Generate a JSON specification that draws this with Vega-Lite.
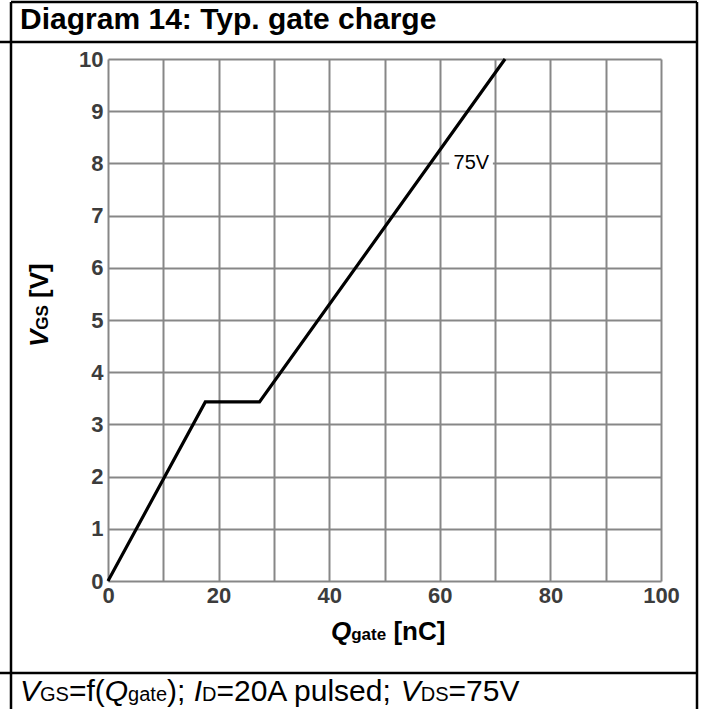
{
  "$schema": "https://vega.github.io/schema/vega-lite/v6.json",
  "width": 553,
  "height": 522,
  "autosize": {"type": "none"},
  "padding": {"left": 108, "top": 59, "right": 44, "bottom": 128},
  "background": "white",
  "config": {
    "view": {"stroke": null},
    "font": "Liberation Sans",
    "text": {"font": "Liberation Sans", "color": "black", "align": "left", "baseline": "alphabetic"},
    "axis": {
      "gridColor": "#878787",
      "gridWidth": 2,
      "gridOpacity": 1,
      "domain": false,
      "ticks": false,
      "labelFont": "Liberation Sans",
      "labelFontWeight": "bold",
      "labelFontSize": 22,
      "labelColor": "#3c3c3c"
    }
  },
  "datasets": {
    "curve": [
      {"q": 0, "v": 0},
      {"q": 17.6, "v": 3.43},
      {"q": 27.4, "v": 3.43},
      {"q": 71.8, "v": 10}
    ],
    "labels": [
      {"q": 65.7, "v": 8, "text": "75V"}
    ],
    "one": [{}]
  },
  "layer": [
    {
      "data": {"name": "curve"},
      "mark": {"type": "line", "color": "black", "strokeWidth": 3.2, "strokeJoin": "miter", "clip": false},
      "encoding": {
        "x": {
          "field": "q", "type": "quantitative",
          "scale": {"domain": [0, 100], "nice": false, "zero": false},
          "axis": {
            "title": null,
            "values": [0, 10, 20, 30, 40, 50, 60, 70, 80, 90, 100],
            "labelExpr": "datum.value % 20 === 0 ? datum.label : ''",
            "labelPadding": 4,
            "labelFlush": false,
            "labelOverlap": false
          }
        },
        "y": {
          "field": "v", "type": "quantitative",
          "scale": {"domain": [0, 10], "nice": false, "zero": false},
          "axis": {
            "title": null,
            "values": [0, 0.5, 1, 1.5, 2, 2.5, 3, 3.5, 4, 4.5, 5, 5.5, 6, 6.5, 7, 7.5, 8, 8.5, 9, 9.5, 10],
            "labelExpr": "datum.value % 1 === 0 ? datum.label : ''",
            "labelPadding": 5,
            "labelFlush": false,
            "labelOverlap": false
          }
        }
      }
    },
    {
      "data": {"name": "one"},
      "mark": {"type": "rect", "fill": "white"},
      "encoding": {
        "x": {"datum": 61.7, "type": "quantitative", "scale": {"domain": [0, 100], "nice": false, "zero": false}},
        "x2": {"datum": 69.6},
        "y": {"datum": 7.85, "type": "quantitative", "scale": {"domain": [0, 10], "nice": false, "zero": false}},
        "y2": {"datum": 8.17}
      }
    },
    {
      "data": {"name": "labels"},
      "mark": {"type": "text", "fontSize": 20, "align": "center", "baseline": "middle"},
      "encoding": {
        "x": {"field": "q", "type": "quantitative", "scale": {"domain": [0, 100], "nice": false, "zero": false}},
        "y": {"field": "v", "type": "quantitative", "scale": {"domain": [0, 10], "nice": false, "zero": false}},
        "text": {"field": "text"}
      }
    },
    {
      "data": {"name": "one"},
      "mark": {"type": "rule", "color": "black", "strokeWidth": 2.5},
      "encoding": {
        "x": {"datum": -17.54, "type": "quantitative", "scale": {"domain": [0, 100], "nice": false, "zero": false}},
        "y": {"datum": 11.09, "type": "quantitative", "scale": {"domain": [0, 10], "nice": false, "zero": false}},
        "y2": {"datum": -2.5}
      }
    },
    {
      "data": {"name": "one"},
      "mark": {"type": "rule", "color": "black", "strokeWidth": 2.5},
      "encoding": {
        "x": {"datum": 106.51, "type": "quantitative", "scale": {"domain": [0, 100], "nice": false, "zero": false}},
        "y": {"datum": 11.09, "type": "quantitative", "scale": {"domain": [0, 10], "nice": false, "zero": false}},
        "y2": {"datum": -2.5}
      }
    },
    {
      "data": {"name": "one"},
      "mark": {"type": "rule", "color": "black", "strokeWidth": 2.5},
      "encoding": {
        "x": {"datum": -17.54, "type": "quantitative", "scale": {"domain": [0, 100], "nice": false, "zero": false}},
        "x2": {"datum": 106.51},
        "y": {"datum": 11.09, "type": "quantitative", "scale": {"domain": [0, 10], "nice": false, "zero": false}}
      }
    },
    {
      "data": {"name": "one"},
      "mark": {"type": "rule", "color": "black", "strokeWidth": 2.5},
      "encoding": {
        "x": {"datum": -19.6, "type": "quantitative", "scale": {"domain": [0, 100], "nice": false, "zero": false}},
        "x2": {"datum": 106.51},
        "y": {"datum": 10.326, "type": "quantitative", "scale": {"domain": [0, 10], "nice": false, "zero": false}}
      }
    },
    {
      "data": {"name": "one"},
      "mark": {"type": "rule", "color": "black", "strokeWidth": 2.5},
      "encoding": {
        "x": {"datum": -19.6, "type": "quantitative", "scale": {"domain": [0, 100], "nice": false, "zero": false}},
        "x2": {"datum": 106.51},
        "y": {"datum": -1.762, "type": "quantitative", "scale": {"domain": [0, 10], "nice": false, "zero": false}}
      }
    },
    {
      "data": {"name": "one"},
      "mark": {"type": "text", "fontSize": 30, "fontWeight": "bold", "text": "Diagram 14: Typ. gate charge"},
      "encoding": {
        "x": {"datum": -15.9, "type": "quantitative", "scale": {"domain": [0, 100], "nice": false, "zero": false}},
        "y": {"datum": 10.575, "type": "quantitative", "scale": {"domain": [0, 10], "nice": false, "zero": false}}
      }
    },
    {
      "data": {"name": "one"},
      "mark": {"type": "text", "fontSize": 26, "fontWeight": "bold", "fontStyle": "italic", "text": "Q"},
      "encoding": {
        "x": {"datum": 40.33, "type": "quantitative", "scale": {"domain": [0, 100], "nice": false, "zero": false}},
        "y": {"datum": -1.13, "type": "quantitative", "scale": {"domain": [0, 10], "nice": false, "zero": false}}
      }
    },
    {
      "data": {"name": "one"},
      "mark": {"type": "text", "fontSize": 17, "fontWeight": "bold", "text": "gate"},
      "encoding": {
        "x": {"datum": 43.98, "type": "quantitative", "scale": {"domain": [0, 100], "nice": false, "zero": false}},
        "y": {"datum": -1.13, "type": "quantitative", "scale": {"domain": [0, 10], "nice": false, "zero": false}}
      }
    },
    {
      "data": {"name": "one"},
      "mark": {"type": "text", "fontSize": 26, "fontWeight": "bold", "text": "[nC]"},
      "encoding": {
        "x": {"datum": 51.61, "type": "quantitative", "scale": {"domain": [0, 100], "nice": false, "zero": false}},
        "y": {"datum": -1.13, "type": "quantitative", "scale": {"domain": [0, 10], "nice": false, "zero": false}}
      }
    },
    {
      "data": {"name": "one"},
      "mark": {"type": "text", "fontSize": 26, "fontWeight": "bold", "fontStyle": "italic", "angle": 270, "text": "V"},
      "encoding": {
        "x": {"datum": -10.85, "type": "quantitative", "scale": {"domain": [0, 100], "nice": false, "zero": false}},
        "y": {"datum": 4.483, "type": "quantitative", "scale": {"domain": [0, 10], "nice": false, "zero": false}}
      }
    },
    {
      "data": {"name": "one"},
      "mark": {"type": "text", "fontSize": 17, "fontWeight": "bold", "angle": 270, "text": "GS"},
      "encoding": {
        "x": {"datum": -10.85, "type": "quantitative", "scale": {"domain": [0, 100], "nice": false, "zero": false}},
        "y": {"datum": 4.814, "type": "quantitative", "scale": {"domain": [0, 10], "nice": false, "zero": false}}
      }
    },
    {
      "data": {"name": "one"},
      "mark": {"type": "text", "fontSize": 26, "fontWeight": "bold", "angle": 270, "text": "[V]"},
      "encoding": {
        "x": {"datum": -10.85, "type": "quantitative", "scale": {"domain": [0, 100], "nice": false, "zero": false}},
        "y": {"datum": 5.423, "type": "quantitative", "scale": {"domain": [0, 10], "nice": false, "zero": false}}
      }
    },
    {
      "data": {"name": "one"},
      "mark": {"type": "text", "fontSize": 30, "fontStyle": "italic", "text": "V"},
      "encoding": {
        "x": {"datum": -15.913, "type": "quantitative", "scale": {"domain": [0, 100], "nice": false, "zero": false}},
        "y": {"datum": -2.299, "type": "quantitative", "scale": {"domain": [0, 10], "nice": false, "zero": false}}
      }
    },
    {
      "data": {"name": "one"},
      "mark": {"type": "text", "fontSize": 20, "text": "GS"},
      "encoding": {
        "x": {"datum": -12.297, "type": "quantitative", "scale": {"domain": [0, 100], "nice": false, "zero": false}},
        "y": {"datum": -2.299, "type": "quantitative", "scale": {"domain": [0, 10], "nice": false, "zero": false}}
      }
    },
    {
      "data": {"name": "one"},
      "mark": {"type": "text", "fontSize": 30, "text": "=f("},
      "encoding": {
        "x": {"datum": -7.071, "type": "quantitative", "scale": {"domain": [0, 100], "nice": false, "zero": false}},
        "y": {"datum": -2.299, "type": "quantitative", "scale": {"domain": [0, 10], "nice": false, "zero": false}}
      }
    },
    {
      "data": {"name": "one"},
      "mark": {"type": "text", "fontSize": 30, "fontStyle": "italic", "text": "Q"},
      "encoding": {
        "x": {"datum": -0.588, "type": "quantitative", "scale": {"domain": [0, 100], "nice": false, "zero": false}},
        "y": {"datum": -2.299, "type": "quantitative", "scale": {"domain": [0, 10], "nice": false, "zero": false}}
      }
    },
    {
      "data": {"name": "one"},
      "mark": {"type": "text", "fontSize": 20, "text": "gate"},
      "encoding": {
        "x": {"datum": 3.633, "type": "quantitative", "scale": {"domain": [0, 100], "nice": false, "zero": false}},
        "y": {"datum": -2.299, "type": "quantitative", "scale": {"domain": [0, 10], "nice": false, "zero": false}}
      }
    },
    {
      "data": {"name": "one"},
      "mark": {"type": "text", "fontSize": 30, "text": ");"},
      "encoding": {
        "x": {"datum": 10.671, "type": "quantitative", "scale": {"domain": [0, 100], "nice": false, "zero": false}},
        "y": {"datum": -2.299, "type": "quantitative", "scale": {"domain": [0, 10], "nice": false, "zero": false}}
      }
    },
    {
      "data": {"name": "one"},
      "mark": {"type": "text", "fontSize": 30, "fontStyle": "italic", "text": "I"},
      "encoding": {
        "x": {"datum": 15.494, "type": "quantitative", "scale": {"domain": [0, 100], "nice": false, "zero": false}},
        "y": {"datum": -2.299, "type": "quantitative", "scale": {"domain": [0, 10], "nice": false, "zero": false}}
      }
    },
    {
      "data": {"name": "one"},
      "mark": {"type": "text", "fontSize": 20, "text": "D"},
      "encoding": {
        "x": {"datum": 17.002, "type": "quantitative", "scale": {"domain": [0, 100], "nice": false, "zero": false}},
        "y": {"datum": -2.299, "type": "quantitative", "scale": {"domain": [0, 10], "nice": false, "zero": false}}
      }
    },
    {
      "data": {"name": "one"},
      "mark": {"type": "text", "fontSize": 30, "text": "=20A pulsed;"},
      "encoding": {
        "x": {"datum": 19.613, "type": "quantitative", "scale": {"domain": [0, 100], "nice": false, "zero": false}},
        "y": {"datum": -2.299, "type": "quantitative", "scale": {"domain": [0, 10], "nice": false, "zero": false}}
      }
    },
    {
      "data": {"name": "one"},
      "mark": {"type": "text", "fontSize": 30, "fontStyle": "italic", "text": "V"},
      "encoding": {
        "x": {"datum": 52.939, "type": "quantitative", "scale": {"domain": [0, 100], "nice": false, "zero": false}},
        "y": {"datum": -2.299, "type": "quantitative", "scale": {"domain": [0, 10], "nice": false, "zero": false}}
      }
    },
    {
      "data": {"name": "one"},
      "mark": {"type": "text", "fontSize": 20, "text": "DS"},
      "encoding": {
        "x": {"datum": 56.555, "type": "quantitative", "scale": {"domain": [0, 100], "nice": false, "zero": false}},
        "y": {"datum": -2.299, "type": "quantitative", "scale": {"domain": [0, 10], "nice": false, "zero": false}}
      }
    },
    {
      "data": {"name": "one"},
      "mark": {"type": "text", "fontSize": 30, "text": "=75V"},
      "encoding": {
        "x": {"datum": 61.578, "type": "quantitative", "scale": {"domain": [0, 100], "nice": false, "zero": false}},
        "y": {"datum": -2.299, "type": "quantitative", "scale": {"domain": [0, 10], "nice": false, "zero": false}}
      }
    }
  ]
}
